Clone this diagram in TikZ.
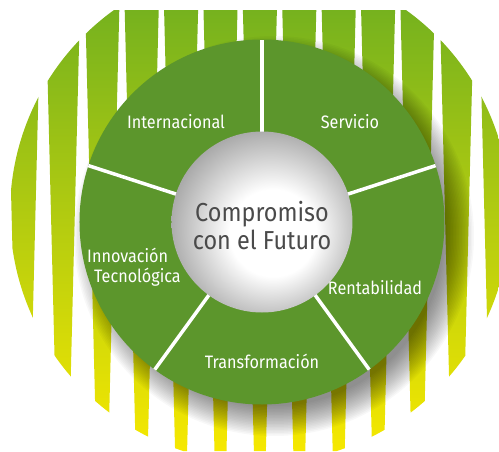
\documentclass[tikz,border=0pt]{standalone}
\usepackage{fontspec}
\setmainfont[FakeStretch=0.9]{Fira Sans}
\usetikzlibrary{calc}

\definecolor{ringgreen}{RGB}{92,150,44}
\definecolor{stripetop}{RGB}{118,178,30}
\definecolor{stripemid}{RGB}{190,203,0}
\definecolor{stripebot}{RGB}{246,232,0}
\definecolor{hubedge}{RGB}{150,150,150}
\definecolor{hubtext}{RGB}{74,74,74}
\pgfdeclareradialshading{hubglow}{\pgfpoint{4bp}{-4bp}}{%
  color(0bp)=(white); color(12bp)=(white);
  color(31bp)=(hubedge); color(50bp)=(hubedge)}

\begin{document}
\begin{tikzpicture}[x=1pt,y=1pt,
    segtext/.style={text=white, font=\fontsize{18}{20}\selectfont, align=center},
    divider/.style={white, line width=3.5pt}]
  \useasboundingbox (-262,-229) rectangle (237,222);
  % striped disc behind the ring
  \begin{scope}
    \clip (-262,-229) rectangle (237,212);
    \clip (-2,9) circle (250);
    \shade[top color=stripetop, middle color=stripemid, bottom color=stripebot]
      \foreach \k in {0,...,12} {
        ({-255.5+39.4*\k},212) -- ({-221.5+39.4*\k},212)
        -- ({-232.5+39.4*\k},-229) -- ({-244.5+39.4*\k},-229) -- cycle};
  \end{scope}
  % soft shadow
  \foreach \r in {170,171.5,...,200}
    \fill[black, opacity=0.028] (12,-14) circle (\r);
  \fill[ringgreen] (0,0) circle (182.5);
  \foreach \a in {90,18,-54,-126,162}
    \draw[divider] (\a:88) -- (\a:182.5);
  \shade[shading=hubglow] (0,0) circle (90.5);

  \node[text=hubtext, font=\fontsize{26}{28}\selectfont, align=center]
    (hub) at (0,-4) {Compromiso\\con el Futuro};
  \node[segtext] (intl) at (-86,100) {Internacional};
  \node[segtext] (serv) at (88,100) {Servicio};
  \node[segtext] (rent) at (113,-66) {Rentabilidad};
  \node[segtext] (trans) at (0,-139) {Transformación};
  \node[segtext, align=left] (innov) at (-128,-45)
    {Innovación\\\hspace*{7pt}Tecnológica};
\end{tikzpicture}
\end{document}
